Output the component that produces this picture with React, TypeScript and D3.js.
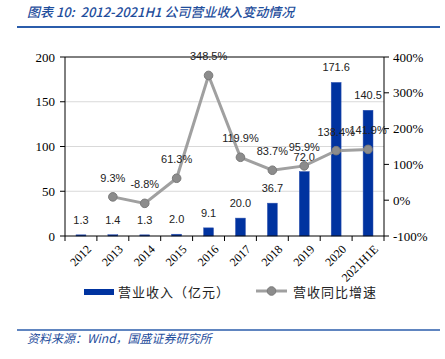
import React from "react";
import * as d3 from "d3";

const years = ["2012", "2013", "2014", "2015", "2016", "2017", "2018", "2019", "2020", "2021H1E"];
const revenue = [1.3, 1.4, 1.3, 2.0, 9.1, 20.0, 36.7, 72.0, 171.6, 140.5];
const growth: (number | null)[] = [null, 9.3, -8.8, 61.3, 348.5, 119.9, 83.7, 95.9, 138.4, 141.9];
const leftTicks = [0, 50, 100, 150, 200];
const rightTicks = [-100, 0, 100, 200, 300, 400];

const W = 445, H = 359;
const plot = { left: 65, right: 384, top: 57, bottom: 236 };
const blue = "#0033A0";
const titleBlue = "#1F4E9C";
const serif = "'Liberation Serif', 'DejaVu Serif', serif";
const sans = "'Liberation Sans', Arial, sans-serif";
const cjk = "'Noto Sans CJK SC', sans-serif";

export default function App() {
  const x = d3.scaleBand<string>().domain(years).range([plot.left, plot.right]).padding(0);
  const yL = d3.scaleLinear().domain([0, 200]).range([plot.bottom, plot.top]);
  const yR = d3.scaleLinear().domain([-100, 400]).range([plot.bottom, plot.top]);
  const bw = x.bandwidth() * 0.31;
  const cx = (y: string) => (x(y) as number) + x.bandwidth() / 2;

  const pts = years
    .map((y, i) => ({ y, v: growth[i] }))
    .filter((d) => d.v !== null) as { y: string; v: number }[];
  const line = d3
    .line<{ y: string; v: number }>()
    .x((d) => cx(d.y))
    .y((d) => yR(d.v));

  const boundaries = years.map((y) => x(y) as number).concat([plot.right]);

  return (
    <svg width={W} height={H} style={{ position: "absolute", left: 0, top: 0 }}>
      <rect width={W} height={H} fill="#fff" />
      {/* title */}
      <text x={27} y={17} fill={titleBlue} fontFamily={cjk} fontSize={13} fontStyle="italic" fontWeight={500}
        style={{ whiteSpace: "pre" }}>
        {"图表 10:  2012-2021H1 公司营业收入变动情况"}
      </text>
      <line x1={17} x2={440} y1={27} y2={27} stroke="#2B5DAB" strokeWidth={2} />

      {/* gridlines */}
      {leftTicks.filter((t) => t > 0 && t < 200).map((t) => (
        <line key={t} x1={plot.left} x2={plot.right} y1={yL(t)} y2={yL(t)} stroke="#d9d9d9" strokeWidth={1} />
      ))}
      <line x1={plot.left} x2={plot.right} y1={plot.top} y2={plot.top} stroke="#000" strokeWidth={1} />

      {/* bars */}
      {years.map((y, i) => (
        <rect key={y} x={cx(y) - bw / 2} y={yL(revenue[i])} width={bw} height={plot.bottom - yL(revenue[i])}
          fill={blue} stroke="#3355b0" strokeWidth={0.5} />
      ))}
      {years.map((y, i) => (
        <text key={y} x={cx(y)} y={yL(revenue[i]) - 11} textAnchor="middle" fontFamily={sans} fontSize={11} fill="#222">
          {revenue[i].toFixed(1)}
        </text>
      ))}

      {/* axes */}
      <line x1={plot.left} x2={plot.right} y1={plot.bottom} y2={plot.bottom} stroke="#000" />
      <line x1={plot.left} x2={plot.left} y1={plot.top} y2={plot.bottom} stroke="#000" />
      <line x1={plot.right} x2={plot.right} y1={plot.top} y2={plot.bottom} stroke="#000" />
      {boundaries.map((b, i) => (
        <line key={i} x1={b} x2={b} y1={plot.bottom} y2={plot.bottom + 5} stroke="#000" />
      ))}
      {leftTicks.map((t) => (
        <g key={t}>
          <line x1={plot.left - 5} x2={plot.left} y1={yL(t)} y2={yL(t)} stroke="#000" />
          <text x={plot.left - 10} y={yL(t)} dy="0.35em" textAnchor="end" fontFamily={serif} fontSize={13} fill="#000">
            {t}
          </text>
        </g>
      ))}
      {rightTicks.map((t) => (
        <g key={t}>
          <line x1={plot.right} x2={plot.right + 5} y1={yR(t)} y2={yR(t)} stroke="#000" />
          <text x={plot.right + 9} y={yR(t)} dy="0.35em" textAnchor="start" fontFamily={serif} fontSize={13} fill="#000">
            {t}%
          </text>
        </g>
      ))}
      {years.map((y) => (
        <text key={y} transform={`translate(${cx(y) + 5},${plot.bottom + 8}) rotate(-45)`} textAnchor="end"
          dy="0.7em" fontFamily={serif} fontSize={12} fill="#000">
          {y}
        </text>
      ))}

      {/* line */}
      <path d={line(pts) || ""} fill="none" stroke="#a0a0a0" strokeWidth={3} />
      {pts.map((d) => (
        <circle key={d.y} cx={cx(d.y)} cy={yR(d.v)} r={4.3} fill="#8c8c8c" stroke="#7a7a7a" strokeWidth={1} />
      ))}
      {pts.map((d) => (
        <text key={d.y} x={cx(d.y)} y={yR(d.v) - 15} textAnchor="middle" fontFamily={sans} fontSize={11} fill="#222">
          {d.v.toFixed(1)}%
        </text>
      ))}

      {/* legend */}
      <rect x={84} y={289} width={30} height={6} fill={blue} />
      <text x={118} y={292} dy="0.35em" fontFamily={cjk} fontSize={13} letterSpacing={1} fill="#222">
        营业收入（亿元）
      </text>
      <line x1={256} x2={287} y1={291} y2={291} stroke="#a0a0a0" strokeWidth={3} />
      <circle cx={271.5} cy={291} r={4.3} fill="#8c8c8c" stroke="#7a7a7a" />
      <text x={293} y={292} dy="0.35em" fontFamily={cjk} fontSize={13} letterSpacing={1} fill="#222">
        营收同比增速
      </text>

      {/* source */}
      <line x1={17} x2={440} y1={330} y2={330} stroke="#2B5DAB" strokeWidth={1.5} />
      <text x={27} y={343} fill={titleBlue} fontFamily={cjk} fontSize={12} fontStyle="italic">
        资料来源：Wind，国盛证券研究所
      </text>
    </svg>
  );
}
